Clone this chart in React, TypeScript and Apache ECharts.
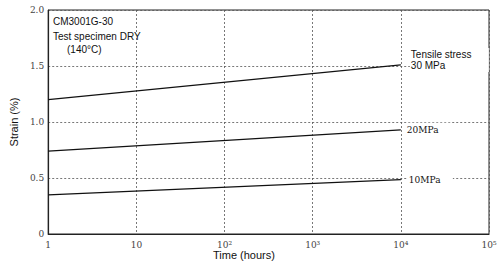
import React, { useEffect, useRef } from "react";
import * as echarts from "echarts";

const hours = [1, 10000];
const stress30 = [1.2, 1.51];
const stress20 = [0.74, 0.93];
const stress10 = [0.35, 0.485];
const yTicks = [0, 0.5, 1.0, 1.5, 2.0];
const xTickLabels: Record<number, string> = {
  1: "1",
  10: "10",
  100: "10²",
  1000: "10³",
  10000: "10⁴",
  100000: "10⁵",
};
const seriesLabels = [["Tensile stress", "30 MPa"], ["20MPa"], ["10MPa"]];

export default function App() {
  const ref = useRef<HTMLDivElement>(null);
  useEffect(() => {
    if (!ref.current) return;
    const chart = echarts.init(ref.current, null, { renderer: "svg" });
    const mk = (vals: number[], lines: string[], serif: boolean, offset: number[]) => ({
      type: "line",
      data: hours.map((h, i) => [h, vals[i]]),
      symbol: "none",
      lineStyle: { color: "#111", width: 1.2 },
      endLabel: {
        show: true,
        formatter: lines.map((l) => `{a|${l}}`).join("\n"),
        color: "#111",
        align: "left",
        verticalAlign: "middle",
        backgroundColor: "#fff",
        padding: serif ? [1, 8, 1, 1] : [1, 12, 1, 1],
        offset,
        rich: {
          a: {
            fontFamily: serif ? "DejaVu Serif" : "Liberation Sans",
            fontSize: serif ? 9 : 10,
            lineHeight: serif ? 12 : 11,
            color: "#111",
            width: serif ? 36 : 66,
            align: "left",
          },
        },
      },
      z: 3,
    });
    chart.setOption({
      animation: false,
      backgroundColor: "#fff",
      grid: {
        left: 44,
        right: 14,
        top: 10,
        bottom: 32,
        show: true,
        borderColor: "#222",
        borderWidth: 1,
      },
      xAxis: {
        type: "log",
        logBase: 10,
        min: 1,
        max: 100000,
        axisLine: { show: true, lineStyle: { color: "#222", width: 1.2 } },
        axisTick: { show: false },
        minorTick: { show: false },
        splitLine: {
          show: true,
          lineStyle: { color: "#555", type: [2, 2], width: 0.8 },
        },
        axisLabel: {
          formatter: (v: number) => xTickLabels[Math.round(v)] ?? "",
          fontFamily: "DejaVu Serif",
          fontSize: 9,
          color: "#444",
          margin: 6,
        },
      },
      yAxis: {
        type: "value",
        min: 0,
        max: 2,
        interval: 0.5,
        name: "Strain (%)",
        nameLocation: "middle",
        nameGap: 29,
        nameTextStyle: {
          fontFamily: "Liberation Sans",
          fontSize: 11,
          color: "#111",
        },
        axisLine: { show: true, lineStyle: { color: "#222", width: 1.2 } },
        axisTick: { show: false },
        splitLine: {
          show: true,
          lineStyle: { color: "#555", type: [2, 2], width: 0.8 },
        },
        axisLabel: {
          formatter: (v: number) =>
            yTicks.includes(v) ? (v === 0 ? "0" : v.toFixed(1)) : "",
          fontFamily: "DejaVu Serif",
          fontSize: 9,
          color: "#444",
          margin: 4,
        },
      },
      graphic: [
        {
          type: "text",
          left: 53,
          top: 14,
          style: {
            text: "CM3001G-30\nTest specimen DRY",
            font: "10px 'Liberation Sans'",
            lineHeight: 15,
            fill: "#111",
          },
        },
        {
          type: "text",
          left: 67,
          top: 44,
          style: { text: "(140°C)", font: "10px 'Liberation Sans'", fill: "#111" },
        },
        {
          type: "text",
          left: 213,
          top: 249,
          style: { text: "Time (hours)", font: "11px 'Liberation Sans'", fill: "#111" },
        },
      ],
      series: [
        mk(stress30, seriesLabels[0], false, [1, -5]),
        mk(stress20, seriesLabels[1], true, [-3, 0]),
        mk(stress10, seriesLabels[2], true, [-1, 0]),
      ],
    });
    return () => chart.dispose();
  }, []);
  return <div ref={ref} style={{ width: 503, height: 266, position: "absolute", left: 0, top: 0 }} />;
}
